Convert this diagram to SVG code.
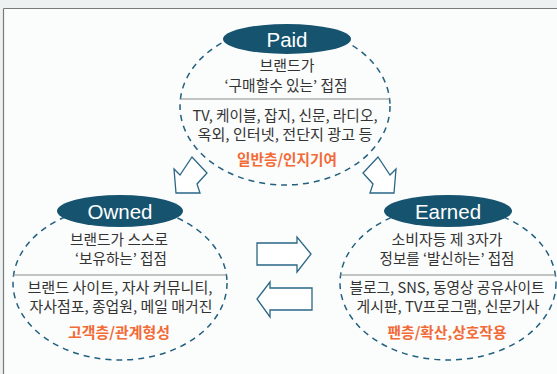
<svg xmlns="http://www.w3.org/2000/svg" width="557" height="374" viewBox="0 0 557 374">
<style>
.ring{fill:none;stroke:#22607f;stroke-width:1.5;stroke-dasharray:6 5}
.div{stroke:#8a8a8a;stroke-width:1.2}
.lab{fill:#15536f}
.head{font-family:"Liberation Sans",Arial,sans-serif;font-size:20.5px;fill:#ffffff;text-anchor:middle}
.t{font-family:"Noto Sans CJK KR","Noto Sans",sans-serif;font-size:14.5px;fill:#333333;text-anchor:middle}
.o{font-family:"Noto Sans CJK KR","Noto Sans",sans-serif;font-size:14.5px;fill:#f26a35;text-anchor:middle;font-weight:bold}
.arr{fill:#ffffff;stroke:#2a6686;stroke-width:1.3;stroke-linejoin:miter}
</style>
<rect x="0" y="0" width="557" height="374" fill="#fbfcfc"/>
<rect x="0" y="0" width="557" height="8" fill="#eef1f2"/>
<rect x="0" y="8" width="3" height="366" fill="#eef1f2"/>
<line x1="3.5" y1="8.5" x2="557" y2="8.5" stroke="#7a7a7a" stroke-width="1.2"/>
<line x1="3.5" y1="8.5" x2="3.5" y2="374" stroke="#7a7a7a" stroke-width="1.2"/>

<g id="connectors">
<polygon class="arr" points="176,193 174,169 180,175 192,157 207,173 197,184 200,193"/>
<polygon class="arr" points="394,193 396,169 390,175 378,157 363,173 373,184 370,193"/>
<polygon class="arr" points="257,243 297,243 297,237 311,254 297,272 297,265 257,265"/>
<polygon class="arr" points="312,288 270,288 270,282 257,299 270,317 270,310 312,310"/>
</g>

<g id="paid">
<ellipse class="ring" cx="285" cy="106" rx="105" ry="79"/>
<line class="div" x1="180" y1="99" x2="390" y2="99"/>
<ellipse class="lab" cx="287" cy="39" rx="64" ry="15"/>
<text class="head" x="287" y="46.5">Paid</text>
<text class="t" x="287" y="71" textLength="55" lengthAdjust="spacingAndGlyphs">브랜드가</text>
<text class="t" x="286" y="91" textLength="123" lengthAdjust="spacingAndGlyphs">‘구매할수 있는’ 접점</text>
<text class="t" x="285" y="120.5" textLength="185" lengthAdjust="spacingAndGlyphs">TV, 케이블, 잡지, 신문, 라디오,</text>
<text class="t" x="285" y="139.5" textLength="175" lengthAdjust="spacingAndGlyphs">옥외, 인터넷, 전단지 광고 등</text>
<text class="o" x="287" y="165" textLength="100" lengthAdjust="spacingAndGlyphs">일반층/인지기여</text>
</g>

<g id="owned">
<ellipse class="ring" cx="120" cy="283" rx="107" ry="77"/>
<line class="div" x1="13" y1="275" x2="227" y2="275"/>
<ellipse class="lab" cx="120" cy="211" rx="63" ry="16"/>
<text class="head" x="120" y="218.5">Owned</text>
<text class="t" x="119" y="245" textLength="98" lengthAdjust="spacingAndGlyphs">브랜드가 스스로</text>
<text class="t" x="121" y="264" textLength="92" lengthAdjust="spacingAndGlyphs">‘보유하는’ 접점</text>
<text class="t" x="120" y="293" textLength="185" lengthAdjust="spacingAndGlyphs">브랜드 사이트, 자사 커뮤니티,</text>
<text class="t" x="121" y="312" textLength="183" lengthAdjust="spacingAndGlyphs">자사점포, 종업원, 메일 매거진</text>
<text class="o" x="119" y="338" textLength="102" lengthAdjust="spacingAndGlyphs">고객층/관계형성</text>
</g>

<g id="earned">
<ellipse class="ring" cx="448" cy="283" rx="108" ry="77"/>
<line class="div" x1="340" y1="275" x2="556" y2="275"/>
<ellipse class="lab" cx="448" cy="211" rx="64" ry="16"/>
<text class="head" x="448" y="218.5">Earned</text>
<text class="t" x="447" y="245" textLength="111" lengthAdjust="spacingAndGlyphs">소비자등 제 3자가</text>
<text class="t" x="447" y="264" textLength="135" lengthAdjust="spacingAndGlyphs">정보를 ‘발신하는’ 접점</text>
<text class="t" x="447" y="293" textLength="195" lengthAdjust="spacingAndGlyphs">블로그, SNS, 동영상 공유사이트</text>
<text class="t" x="448" y="312" textLength="183" lengthAdjust="spacingAndGlyphs">게시판, TV프로그램, 신문기사</text>
<text class="o" x="447" y="338" textLength="119" lengthAdjust="spacingAndGlyphs">팬층/확산,상호작용</text>
</g>
</svg>
